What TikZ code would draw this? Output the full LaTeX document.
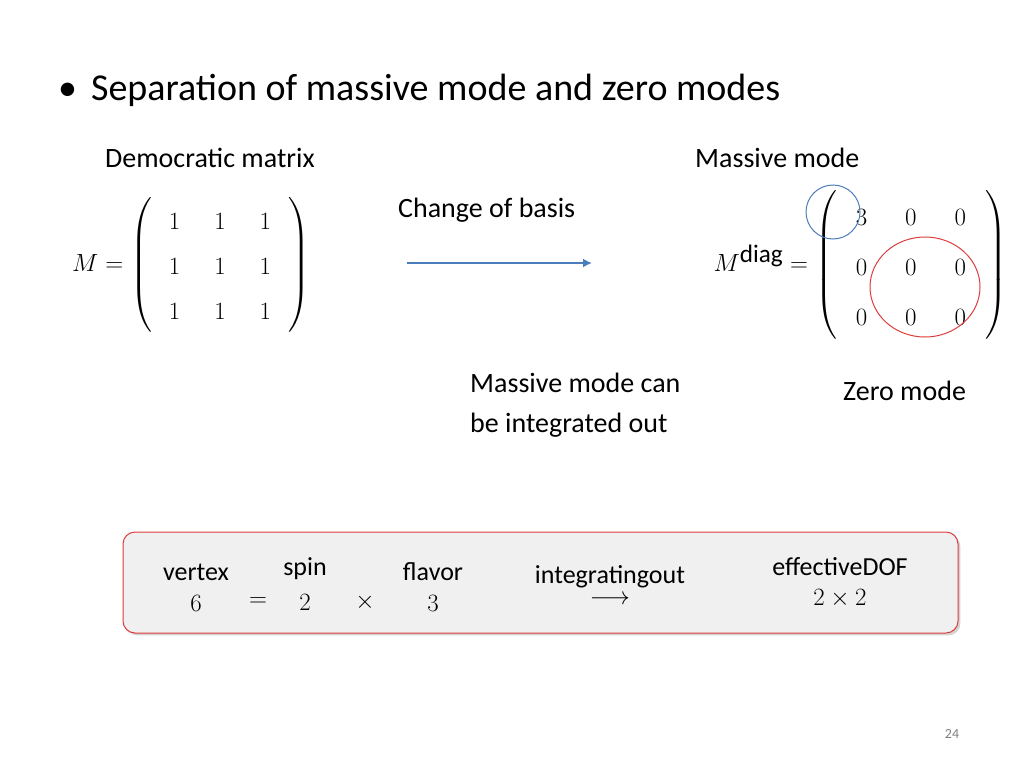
\documentclass[tikz,border=0pt]{standalone}
\usepackage{amsmath}
\usepackage{fontspec}
\setmainfont{Carlito}
\usetikzlibrary{shadows,arrows.meta}
\definecolor{arrowblue}{RGB}{74,126,187}
\definecolor{boxred}{RGB}{220,60,60}
\begin{document}
\begin{tikzpicture}[x=1pt,y=-1pt,
  lbl/.style={font=\fontsize{28}{34}\selectfont,anchor=west,inner sep=0},
  sm/.style={font=\fontsize{26}{30}\selectfont\rmfamily,inner sep=0},
  big/.style={font=\fontsize{44}{50}\selectfont,inner sep=0}]
\useasboundingbox (0,0) rectangle (1024,768);
\node[lbl,font=\fontsize{38}{44}\selectfont] (title) at (58,90) {\textbullet\hspace{14pt}Separation of massive mode and zero modes};
\node[lbl] (dem) at (105,158) {Democratic matrix};
\node[lbl] (mass) at (695,158) {Massive mode};
\node[lbl] (cob) at (398,210) {Change of basis};
\node[inner sep=0,anchor=west,font=\fontsize{36}{45}\selectfont] (M) at (72,265)
 {$M=\left(\arraycolsep=17pt\begin{array}{ccc}1&1&1\\1&1&1\\1&1&1\end{array}\right)$};
\node[inner sep=0,anchor=east,font=\fontsize{36}{50}\selectfont] (D) at (1007,265)
 {$M^{\mathrm{diag}}=\left(\arraycolsep=19pt\begin{array}{ccc}3&0&0\\0&0&0\\0&0&0\end{array}\right)$};
\coordinate (a1) at (407,263); \coordinate (a2) at (592,263);
\draw[arrowblue,line width=2pt,-{Latex[length=9pt,width=9pt]}] (a1) -- (a2);
\draw[arrowblue,line width=1pt] (833,212) circle (27);
\draw[boxred,line width=1pt] (925,287) ellipse (55 and 50);
\node[lbl,align=left,anchor=north west,font=\fontsize{28}{40}\selectfont] (int) at (470,373) {Massive mode can\\be integrated out};
\node[lbl] (zero) at (843,391) {Zero mode};
\node[draw=boxred,line width=1pt,rounded corners=12pt,fill=gray!12,drop shadow={opacity=0.35},
  minimum width=835pt,minimum height=101pt] (box) at (540.5,582.5) {};
\node[sm] (v) at (196,572) {vertex};
\node[big] (n6) at (196,603) {$6$};
\node[big] (eq) at (258,602) {$=$};
\node[sm] (s) at (305,569) {spin};
\node[big] (n2) at (305,602) {$2$};
\node[big] (x1) at (365,602) {$\times$};
\node[sm] (f) at (433,572) {flavor};
\node[big] (n3) at (433,603) {$3$};
\node[sm] (io) at (610,577) {integratingout};
\node[big] (ar) at (610,600) {$\longrightarrow$};
\node[sm] (ed) at (840,567) {effectiveDOF};
\node[big] (n22) at (840,599) {$2\times2$};
\node[font=\fontsize{14}{16}\selectfont,text=gray] (pg) at (952,734) {24};
\end{tikzpicture}
\end{document}
